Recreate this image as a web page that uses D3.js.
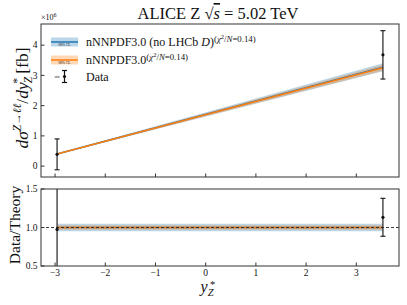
<!DOCTYPE html>
<html>
<head>
<meta charset="utf-8">
<script src="https://cdn.jsdelivr.net/npm/d3@7"></script>
<style>
  body { margin: 0; background: #fff; }
  text { font-family: "Liberation Serif", "DejaVu Serif", serif; fill: #111; }
</style>
</head>
<body>
<div id="chart"></div>
<script>
const width = 407;
const height = 305;

// data (x10^6 fb)
const xData = [-2.96, 3.53];
const dataVal = [0.39, 3.68];
const dataErr = [0.51, 0.80];

const theoryBlue = [0.40, 3.27];
const theoryBlueErr = [0.016, 0.13];
const theoryOrange = [0.40, 3.25];
const theoryOrangeErr = [0.012, 0.10];

const xTicks = [-3, -2, -1, 0, 1, 2, 3];
const yTicksTop = [0, 1, 2, 3, 4];
const yTicksBot = [0.5, 1.0, 1.5];

const blue = "#1f77b4";
const orange = "#ff7f0e";

const svg = d3
  .select("#chart")
  .append("svg")
  .attr("width", width)
  .attr("height", height);

const x = d3.scaleLinear().domain([-3.28, 3.85]).range([41, 399]);
const yTop = d3.scaleLinear().domain([-0.36, 4.7]).range([177, 24]);
const yBot = d3.scaleLinear().domain([0.5, 1.5]).range([266, 189]);

const defs = svg.append("defs");
defs.append("clipPath").attr("id", "clipTop")
  .append("rect").attr("x", 41).attr("y", 24).attr("width", 358).attr("height", 153);
defs.append("clipPath").attr("id", "clipBot")
  .append("rect").attr("x", 41).attr("y", 189).attr("width", 358).attr("height", 77);

const idx = d3.range(xData.length);

// TOP PANEL
const topPanel = svg.append("g").attr("clip-path", "url(#clipTop)");

function band(g, yScale, vals, errs, color, op) {
  const area = d3.area()
    .x((i) => x(xData[i]))
    .y0((i) => yScale(vals[i] - errs[i]))
    .y1((i) => yScale(vals[i] + errs[i]));
  g.append("path").attr("d", area(idx)).attr("fill", color).attr("fill-opacity", op);
}
function line(g, yScale, vals, color, w) {
  const l = d3.line().x((i) => x(xData[i])).y((i) => yScale(vals[i]));
  g.append("path").attr("d", l(idx)).attr("fill", "none")
    .attr("stroke", color).attr("stroke-width", w);
}

band(topPanel, yTop, theoryBlue, theoryBlueErr, blue, 0.3);
band(topPanel, yTop, theoryOrange, theoryOrangeErr, orange, 0.3);
line(topPanel, yTop, theoryBlue, blue, 1.5);
line(topPanel, yTop, theoryOrange, orange, 1.5);

function errorbars(g, yScale, vals, errs) {
  idx.forEach((i) => {
    const cx = x(xData[i]);
    g.append("line").attr("x1", cx).attr("x2", cx)
      .attr("y1", yScale(vals[i] - errs[i])).attr("y2", yScale(vals[i] + errs[i]))
      .attr("stroke", "#222").attr("stroke-width", 1.2);
    [vals[i] - errs[i], vals[i] + errs[i]].forEach((v) => {
      g.append("line").attr("x1", cx - 2.5).attr("x2", cx + 2.5)
        .attr("y1", yScale(v)).attr("y2", yScale(v))
        .attr("stroke", "#222").attr("stroke-width", 1.2);
    });
    g.append("circle").attr("cx", cx).attr("cy", yScale(vals[i])).attr("r", 1.6).attr("fill", "#111");
  });
}
errorbars(topPanel, yTop, dataVal, dataErr);

// BOTTOM PANEL
const botPanel = svg.append("g").attr("clip-path", "url(#clipBot)");
const ones = xData.map(() => 1);
band(botPanel, yBot, ones, theoryBlueErr.map((e, i) => e / theoryBlue[i] + 0.01), blue, 0.3);
band(botPanel, yBot, ones, theoryOrangeErr.map((e, i) => e / theoryOrange[i]), orange, 0.3);
line(botPanel, yBot, ones, blue, 1.5);
line(botPanel, yBot, ones, orange, 1.5);
botPanel.append("line").attr("x1", 41).attr("x2", 399)
  .attr("y1", yBot(1)).attr("y2", yBot(1))
  .attr("stroke", "#222").attr("stroke-width", 0.9).attr("stroke-dasharray", "3,2");
errorbars(botPanel, yBot,
  dataVal.map((v, i) => v / theoryOrange[i]),
  dataErr.map((e, i) => e / theoryOrange[i]));

// AXES
function frame(yScale, yTicks, fmt, y0, y1, showX) {
  const g = svg.append("g");
  g.append("rect").attr("x", 41).attr("y", y0).attr("width", 358).attr("height", y1 - y0)
    .attr("fill", "none").attr("stroke", "#333").attr("stroke-width", 1);
  xTicks.forEach((t) => {
    g.append("line").attr("x1", x(t)).attr("x2", x(t)).attr("y1", y1).attr("y2", y1 - 3.5)
      .attr("stroke", "#333");
    if (showX) {
      g.append("text").attr("x", x(t)).attr("y", y1 + 9.5).attr("text-anchor", "middle")
        .attr("font-size", 9.5).text(t < 0 ? "\u2212" + Math.abs(t) : t);
    }
  });
  yTicks.forEach((t) => {
    g.append("line").attr("x1", 41).attr("x2", 44.5).attr("y1", yScale(t)).attr("y2", yScale(t))
      .attr("stroke", "#333");
    g.append("text").attr("x", 37.5).attr("y", yScale(t) + 3.3).attr("text-anchor", "end")
      .attr("font-size", 9.5).text(fmt(t));
  });
}
frame(yTop, yTicksTop, (d) => d, 24, 177, false);
frame(yBot, yTicksBot, d3.format(".1f"), 189, 266, true);

// texts
const title = svg.append("text").attr("x", 218).attr("y", 19).attr("text-anchor", "middle")
  .attr("font-size", 16.5);
title.append("tspan").text("ALICE Z ");
title.append("tspan").text("\u221A");
title.append("tspan").attr("font-style", "italic").attr("text-decoration", "overline").text("s");
title.append("tspan").text(" = 5.02 TeV");

const mult = svg.append("text").attr("x", 41).attr("y", 20).attr("font-size", 8);
mult.append("tspan").text("\u00D710");
mult.append("tspan").attr("dy", -3).attr("font-size", 6).text("6");

const ylab = svg.append("text")
  .attr("transform", "translate(28,98) rotate(-90)")
  .attr("text-anchor", "middle").attr("font-size", 17.5);
ylab.append("tspan").attr("font-style", "italic").text("d\u03C3");
ylab.append("tspan").attr("font-style", "italic").attr("font-size", 11.5).attr("dy", -7).text("Z\u2192\u2113\u2113");
ylab.append("tspan").attr("dy", 7).text("/");
ylab.append("tspan").attr("font-style", "italic").text("dy");
ylab.append("tspan").attr("font-style", "italic").attr("font-size", 11.5).attr("dy", 4).attr("dx", -1).text("Z");
ylab.append("tspan").attr("font-size", 11.5).attr("dy", -11).attr("dx", -7).text("*");
ylab.append("tspan").attr("dy", 7).text(" [fb]");

svg.append("text").attr("transform", "translate(20,225) rotate(-90)")
  .attr("text-anchor", "middle").attr("font-size", 15.5).text("Data/Theory");

const xlab = svg.append("text").attr("x", 207).attr("y", 292).attr("text-anchor", "middle")
  .attr("font-size", 16).attr("font-style", "italic");
xlab.append("tspan").text("y");
xlab.append("tspan").attr("font-size", 10.5).attr("dy", 3.5).text("Z");
svg.append("text").attr("x", 212.5).attr("y", 287.5).attr("text-anchor", "middle")
  .attr("font-size", 10.5).text("*");

// LEGEND
const legend = svg.append("g");
const legItems = [
  { color: blue, y: 42, label: "nNNPDF3.0 (no LHCb ", it: "D", tail: ")" },
  { color: orange, y: 60, label: "nNNPDF3.0", it: "", tail: "" }
];
legItems.forEach((d) => {
  legend.append("rect").attr("x", 51).attr("y", d.y - 4.5).attr("width", 27).attr("height", 9)
    .attr("fill", d.color).attr("fill-opacity", 0.3);
  legend.append("line").attr("x1", 51).attr("x2", 78).attr("y1", d.y).attr("y2", d.y)
    .attr("stroke", d.color).attr("stroke-width", 1.5);
  legend.append("text").attr("x", 64.5).attr("y", d.y + 3.5).attr("text-anchor", "middle")
    .attr("font-size", 3.5).text("68% CL");
  const t = legend.append("text").attr("x", 86).attr("y", d.y + 4).attr("font-size", 12);
  t.append("tspan").text(d.label);
  if (d.it) t.append("tspan").attr("font-style", "italic").text(d.it);
  if (d.tail) t.append("tspan").text(d.tail);
  t.append("tspan").attr("font-size", 8.8).attr("dy", -4.5).text("(");
  t.append("tspan").attr("font-size", 8.8).attr("font-style", "italic").text("\u03C7");
  t.append("tspan").attr("font-size", 6.5).attr("dy", -3).text("2");
  t.append("tspan").attr("font-size", 8.8).attr("dy", 3).text("/");
  t.append("tspan").attr("font-size", 8.8).attr("font-style", "italic").text("N");
  t.append("tspan").attr("font-size", 8.8).text("=0.14)");
});
legend.append("line").attr("x1", 64.5).attr("x2", 64.5).attr("y1", 70.5).attr("y2", 82.5)
  .attr("stroke", "#111").attr("stroke-width", 1.2);
[70.5, 82.5].forEach((yy) => {
  legend.append("line").attr("x1", 62).attr("x2", 67).attr("y1", yy).attr("y2", yy)
    .attr("stroke", "#111").attr("stroke-width", 1.2);
});
legend.append("circle").attr("cx", 64.5).attr("cy", 76.5).attr("r", 1.6).attr("fill", "#111");
legend.append("text").attr("x", 57).attr("y", 78).attr("text-anchor", "middle")
  .attr("font-size", 3.5).text("stat");
legend.append("text").attr("x", 86).attr("y", 80.5).attr("font-size", 12).text("Data");
</script>
</body>
</html>
